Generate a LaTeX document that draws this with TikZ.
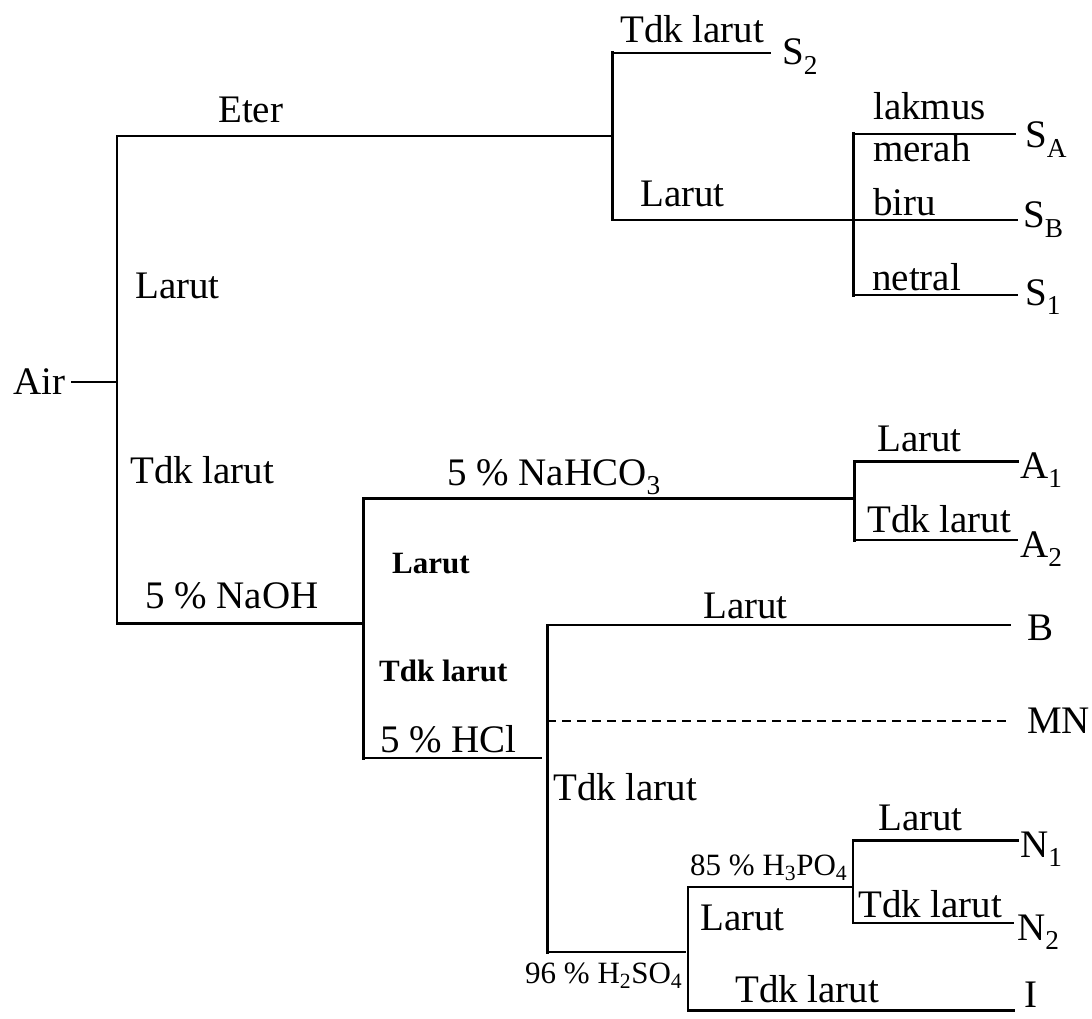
\documentclass[tikz,border=0pt]{standalone}
\usepackage{fontspec}
\setmainfont{Liberation Serif}
\begin{document}
\begin{tikzpicture}[x=1pt,y=-1pt,
  ln/.style={line width=2pt,line cap=rect},
  thk/.style={line width=3pt,line cap=rect},
  dsh/.style={line width=2pt,dash pattern=on 9pt off 6pt},
  lbl/.style={anchor=base west,inner sep=0pt,font=\fontsize{39}{39}\selectfont},
  sml/.style={anchor=base west,inner sep=0pt,font=\fontsize{31}{31}\selectfont},
  bld/.style={anchor=base west,inner sep=0pt,font=\fontsize{31}{31}\selectfont\bfseries}]
\useasboundingbox[fill=white] (0,0) rectangle (1092,1019);
% junction coordinates
\coordinate (airR) at (72,382);   \coordinate (airJ) at (117,382);
\coordinate (v1t) at (117,136);   \coordinate (v1b) at (117,623);
\coordinate (e2) at (612,136);
\coordinate (v2t) at (612,53);    \coordinate (v2b) at (612,220);
\coordinate (s2e) at (770,53);
\coordinate (v3t) at (853,134);   \coordinate (v3b) at (853,295);
\coordinate (sAe) at (1015,134);  \coordinate (sBe) at (1017,220);
\coordinate (s1e) at (1017,295);
\coordinate (v4t) at (363,498);   \coordinate (v4m) at (363,623);
\coordinate (v4b) at (363,758);
\coordinate (v5t) at (854,461);   \coordinate (v5m) at (854,498);
\coordinate (v5b) at (854,540);
\coordinate (a1e) at (1017,461);  \coordinate (a2e) at (1017,540);
\coordinate (hcl) at (541,758);
\coordinate (v6t) at (547,625);   \coordinate (v6m) at (547,721);
\coordinate (v6b) at (547,952);
\coordinate (be) at (1010,625);   \coordinate (mne) at (1010,721);
\coordinate (h2so4) at (685,952);
\coordinate (v7t) at (688,887);   \coordinate (v7b) at (688,1010);
\coordinate (v8t) at (853,840);   \coordinate (v8m) at (853,887);
\coordinate (v8b) at (853,923);
\coordinate (n1e) at (1017,840);  \coordinate (n2e) at (1013,923);
\coordinate (ie) at (1013,1010);
% connectors
\draw[ln] (airR) -- (airJ);
\draw[ln] (v1t) -- (v1b);
\draw[ln] (v1t) -- (e2);
\draw[thk] (v2t) -- (v2b);
\draw[ln] (v2t) -- (s2e);
\draw[ln] (v2b) -- (sBe);
\draw[thk] (v3t) -- (v3b);
\draw[ln] (v3t) -- (sAe);
\draw[ln] (v3b) -- (s1e);
\draw[thk] (v1b) -- (v4m);
\draw[thk] (v4t) -- (v4b);
\draw[thk] (v4t) -- (v5m);
\draw[thk] (v5t) -- (v5b);
\draw[thk] (v5t) -- (a1e);
\draw[ln] (v5b) -- (a2e);
\draw[ln] (v4b) -- (hcl);
\draw[thk] (v6t) -- (v6b);
\draw[ln] (v6t) -- (be);
\draw[dsh] (v6m) -- (mne);
\draw[ln] (v6b) -- (h2so4);
\draw[ln] (v7t) -- (v7b);
\draw[ln] (v7t) -- (v8m);
\draw[ln] (v8t) -- (v8b);
\draw[thk] (v8t) -- (n1e);
\draw[ln] (v8b) -- (n2e);
\draw[thk] (v7b) -- (ie);
% labels
\node[lbl] (tAir) at (13,394) {Air};
\node[lbl] (tEter) at (218,123) {Eter};
\node[lbl] (tTdk1) at (620,43) {Tdk larut};
\node[lbl] (tS2) at (782,65) {S\textsubscript{2}};
\node[lbl] (tLak) at (873,120) {lakmus};
\node[lbl] (tMer) at (873,162) {merah};
\node[lbl] (tSA) at (1025,148) {S\textsubscript{A}};
\node[lbl] (tLar1) at (640,207) {Larut};
\node[lbl] (tBiru) at (873,215) {biru};
\node[lbl] (tSB) at (1023,228) {S\textsubscript{B}};
\node[lbl] (tNet) at (872,290) {netral};
\node[lbl] (tS1) at (1025,305) {S\textsubscript{1}};
\node[lbl] (tLar2) at (135,298) {Larut};
\node[lbl] (tTdk2) at (130,483) {Tdk larut};
\node[lbl] (tNaOH) at (145,608) {5 \% NaOH};
\node[lbl] (tNaHCO) at (447,485) {5 \% NaHCO\textsubscript{3}};
\node[lbl] (tLar3) at (877,451) {Larut};
\node[lbl] (tA1) at (1020,478) {A\textsubscript{1}};
\node[lbl] (tTdk3) at (867,532) {Tdk larut};
\node[lbl] (tA2) at (1020,557) {A\textsubscript{2}};
\node[bld] (tLar4) at (392,573) {Larut};
\node[bld] (tTdk4) at (379,681) {Tdk larut};
\node[lbl] (tHCl) at (380,752) {5 \% HCl};
\node[lbl] (tLar5) at (703,618) {Larut};
\node[lbl] (tB) at (1027,640) {B};
\node[lbl] (tMN) at (1027,733) {MN};
\node[lbl] (tTdk5) at (553,800) {Tdk larut};
\node[lbl] (tLar6) at (878,830) {Larut};
\node[lbl] (tN1) at (1020,857) {N\textsubscript{1}};
\node[lbl] (tTdk6) at (858,917) {Tdk larut};
\node[lbl] (tN2) at (1017,940) {N\textsubscript{2}};
\node[sml] (tH3PO4) at (690,875) {85 \% H\textsubscript{3}PO\textsubscript{4}};
\node[lbl] (tLar7) at (700,930) {Larut};
\node[sml] (tH2SO4) at (525,983) {96 \% H\textsubscript{2}SO\textsubscript{4}};
\node[lbl] (tTdk7) at (735,1002) {Tdk larut};
\node[lbl] (tI) at (1024,1007) {I};
\end{tikzpicture}
\end{document}
